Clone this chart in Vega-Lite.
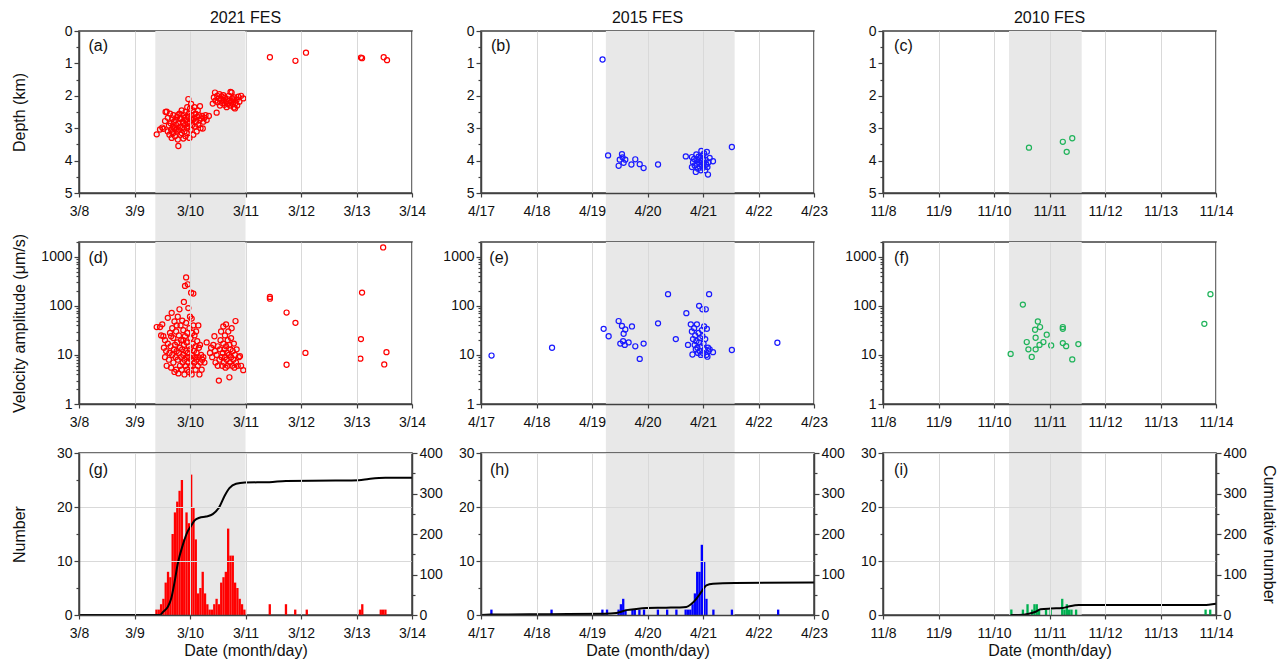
{
"$schema": "https://vega.github.io/schema/vega-lite/v6.json",
"padding": {"left": 10, "top": 9, "right": 5, "bottom": 5},
"config": {
 "font": "Liberation Sans",
 "view": {"stroke": "#404040", "strokeWidth": 1.5},
 "axis": {"zindex": 1, "labelFontSize": 14, "labelColor": "#111111", "titleFontSize": 16, "titleFontWeight": "normal", "titleColor": "#111111", "domainColor": "#404040", "domainWidth": 1.5, "tickColor": "#404040", "tickWidth": 1.2, "gridColor": "#d9d9d9", "gridWidth": 1, "labelPadding": 2, "labelFlush": false, "labelOverlap": false, "tickCount": 100},
 "title": {"fontSize": 16, "fontWeight": "normal", "color": "#111111", "offset": -2, "frame": "group"}
},
"datasets": {
 "band21": [{"s": 9.375, "e": 11.0}],
 "band15": [{"s": 19.25, "e": 21.57}],
 "band10": [{"s": 10.27, "e": 11.58}],
 "a": [
  {"d":9.40,"depth":3.19},{"d":9.46,"depth":3.04},{"d":9.50,"depth":2.98},{"d":9.52,"depth":3.02},{"d":9.55,"depth":2.78},{"d":9.56,"depth":2.50},{"d":9.58,"depth":2.49},{"d":9.60,"depth":2.68},{"d":9.60,"depth":3.10},{"d":9.62,"depth":2.92},{"d":9.63,"depth":3.20},{"d":9.64,"depth":2.55},{"d":9.65,"depth":2.85},{"d":9.66,"depth":3.05},{"d":9.67,"depth":3.30},{"d":9.68,"depth":2.70},{"d":9.69,"depth":2.95},{"d":9.70,"depth":3.15},{"d":9.70,"depth":2.60},{"d":9.71,"depth":2.80},{"d":9.72,"depth":3.00},{"d":9.73,"depth":3.25},{"d":9.74,"depth":2.75},{"d":9.75,"depth":2.90},{"d":9.76,"depth":3.10},{"d":9.77,"depth":2.65},{"d":9.78,"depth":3.35},{"d":9.79,"depth":3.55},{"d":9.79,"depth":2.85},{"d":9.80,"depth":3.05},{"d":9.81,"depth":2.55},{"d":9.82,"depth":2.95},{"d":9.83,"depth":3.20},{"d":9.84,"depth":2.70},{"d":9.85,"depth":2.45},{"d":9.86,"depth":3.00},{"d":9.87,"depth":2.80},{"d":9.88,"depth":3.32},{"d":9.89,"depth":2.60},{"d":9.90,"depth":3.10},{"d":9.91,"depth":2.90},{"d":9.92,"depth":2.50},{"d":9.93,"depth":2.75},{"d":9.94,"depth":3.15},{"d":9.95,"depth":2.35},{"d":9.96,"depth":2.65},{"d":9.97,"depth":2.10},{"d":9.97,"depth":2.95},{"d":9.98,"depth":2.55},{"d":9.99,"depth":3.30},{"d":10.00,"depth":2.40},{"d":10.00,"depth":2.80},{"d":10.01,"depth":3.05},{"d":10.02,"depth":2.25},{"d":10.03,"depth":2.60},{"d":10.04,"depth":2.90},{"d":10.05,"depth":2.45},{"d":10.06,"depth":3.20},{"d":10.07,"depth":2.70},{"d":10.08,"depth":2.35},{"d":10.09,"depth":2.95},{"d":10.10,"depth":2.55},{"d":10.11,"depth":2.80},{"d":10.12,"depth":3.10},{"d":10.13,"depth":2.65},{"d":10.14,"depth":2.45},{"d":10.15,"depth":2.90},{"d":10.16,"depth":2.60},{"d":10.17,"depth":2.75},{"d":10.18,"depth":2.32},{"d":10.19,"depth":3.00},{"d":10.20,"depth":2.70},{"d":10.22,"depth":2.62},{"d":10.23,"depth":3.01},{"d":10.24,"depth":2.80},{"d":10.26,"depth":2.68},{"d":10.28,"depth":2.60},{"d":10.30,"depth":2.75},{"d":10.34,"depth":2.62},{"d":9.85,"depth":3.15},{"d":9.78,"depth":2.60},{"d":9.95,"depth":3.00},{"d":9.88,"depth":2.85},{"d":9.92,"depth":3.25},{"d":10.02,"depth":2.70},{"d":9.74,"depth":3.05},{"d":9.82,"depth":2.70},{"d":9.96,"depth":2.85},{"d":10.05,"depth":2.75},{"d":9.68,"depth":3.12},{"d":9.90,"depth":2.68},
  {"d":10.41,"depth":2.24},{"d":10.43,"depth":2.05},{"d":10.45,"depth":1.90},{"d":10.46,"depth":2.15},{"d":10.48,"depth":2.52},{"d":10.49,"depth":2.00},{"d":10.50,"depth":2.20},{"d":10.52,"depth":2.08},{"d":10.53,"depth":1.95},{"d":10.54,"depth":2.30},{"d":10.56,"depth":2.12},{"d":10.57,"depth":2.02},{"d":10.58,"depth":2.22},{"d":10.60,"depth":1.98},{"d":10.61,"depth":2.14},{"d":10.62,"depth":2.28},{"d":10.63,"depth":2.06},{"d":10.65,"depth":2.18},{"d":10.66,"depth":2.35},{"d":10.67,"depth":2.10},{"d":10.68,"depth":2.25},{"d":10.70,"depth":2.00},{"d":10.71,"depth":2.16},{"d":10.72,"depth":2.30},{"d":10.73,"depth":1.88},{"d":10.74,"depth":2.20},{"d":10.75,"depth":1.90},{"d":10.76,"depth":2.08},{"d":10.77,"depth":2.26},{"d":10.78,"depth":2.14},{"d":10.79,"depth":2.36},{"d":10.80,"depth":2.05},{"d":10.81,"depth":2.39},{"d":10.82,"depth":2.22},{"d":10.84,"depth":2.12},{"d":10.85,"depth":2.30},{"d":10.87,"depth":2.03},{"d":10.89,"depth":2.18},{"d":10.92,"depth":2.00},{"d":10.96,"depth":2.08},
  {"d":11.44,"depth":0.81},{"d":11.90,"depth":0.92},{"d":12.09,"depth":0.67},{"d":13.08,"depth":0.82},{"d":13.10,"depth":0.84},{"d":13.49,"depth":0.81},{"d":13.55,"depth":0.90}
 ],
 "b": [
  {"d":19.19,"depth":0.88},{"d":19.29,"depth":3.84},{"d":19.48,"depth":4.16},{"d":19.50,"depth":3.97},{"d":19.54,"depth":3.80},{"d":19.57,"depth":4.07},{"d":19.60,"depth":3.97},{"d":19.55,"depth":3.90},{"d":19.71,"depth":4.12},{"d":19.78,"depth":3.96},{"d":19.86,"depth":4.11},{"d":19.93,"depth":4.23},{"d":20.19,"depth":4.12},{"d":20.69,"depth":3.87},{"d":21.52,"depth":3.58},
  {"d":20.80,"depth":3.89},{"d":20.80,"depth":4.20},{"d":20.82,"depth":4.05},{"d":20.84,"depth":3.95},{"d":20.85,"depth":4.15},{"d":20.87,"depth":4.35},{"d":20.88,"depth":3.81},{"d":20.89,"depth":4.10},{"d":20.90,"depth":3.98},{"d":20.91,"depth":4.25},{"d":20.92,"depth":3.88},{"d":20.93,"depth":4.05},{"d":20.94,"depth":4.18},{"d":20.95,"depth":3.92},{"d":20.96,"depth":4.30},{"d":20.97,"depth":3.70},{"d":20.97,"depth":4.00},{"d":20.98,"depth":4.12},{"d":20.99,"depth":3.85},{"d":21.00,"depth":4.22},{"d":21.00,"depth":3.95},{"d":21.01,"depth":4.08},{"d":21.02,"depth":3.78},{"d":21.03,"depth":4.15},{"d":21.04,"depth":4.30},{"d":21.05,"depth":3.98},{"d":21.06,"depth":4.12},{"d":21.07,"depth":3.73},{"d":21.08,"depth":4.20},{"d":21.09,"depth":4.43},{"d":21.10,"depth":4.05},{"d":21.12,"depth":3.92},{"d":21.18,"depth":4.02}
 ],
 "c": [{"d":10.63,"depth":3.60},{"d":11.24,"depth":3.42},{"d":11.31,"depth":3.73},{"d":11.41,"depth":3.31}],
 "dv": [
  {"d":9.40,"v":37},{"d":9.46,"v":37},{"d":9.48,"v":25},{"d":9.50,"v":42},{"d":9.52,"v":24},{"d":9.53,"v":14},{"d":9.55,"v":9},{"d":9.55,"v":20},{"d":9.57,"v":12},{"d":9.58,"v":6},{"d":9.60,"v":57},{"d":9.60,"v":17},{"d":9.62,"v":8},{"d":9.63,"v":11},{"d":9.64,"v":28},{"d":9.65,"v":15},{"d":9.66,"v":5.5},{"d":9.67,"v":72},{"d":9.68,"v":10},{"d":9.68,"v":35},{"d":9.70,"v":7},{"d":9.70,"v":22},{"d":9.71,"v":13},{"d":9.72,"v":4.5},{"d":9.73,"v":16},{"d":9.74,"v":9},{"d":9.75,"v":30},{"d":9.75,"v":5},{"d":9.76,"v":12},{"d":9.77,"v":18},{"d":9.78,"v":8},{"d":9.78,"v":60},{"d":9.79,"v":4.2},{"d":9.80,"v":11},{"d":9.80,"v":25},{"d":9.81,"v":85},{"d":9.82,"v":6},{"d":9.82,"v":14},{"d":9.83,"v":40},{"d":9.84,"v":9},{"d":9.84,"v":20},{"d":9.85,"v":5},{"d":9.86,"v":13},{"d":9.86,"v":50},{"d":9.87,"v":7},{"d":9.88,"v":32},{"d":9.88,"v":10},{"d":9.89,"v":120},{"d":9.89,"v":16},{"d":9.90,"v":4},{"d":9.90,"v":8},{"d":9.91,"v":255},{"d":9.91,"v":24},{"d":9.92,"v":12},{"d":9.92,"v":6},{"d":9.93,"v":380},{"d":9.93,"v":45},{"d":9.94,"v":9},{"d":9.94,"v":18},{"d":9.95,"v":5},{"d":9.95,"v":28},{"d":9.96,"v":11},{"d":9.96,"v":275},{"d":9.97,"v":7},{"d":9.97,"v":90},{"d":9.98,"v":15},{"d":9.98,"v":4.5},{"d":9.99,"v":35},{"d":9.99,"v":9},{"d":10.00,"v":60},{"d":10.00,"v":13},{"d":10.01,"v":6},{"d":10.01,"v":22},{"d":10.02,"v":8},{"d":10.02,"v":185},{"d":10.03,"v":4},{"d":10.03,"v":55},{"d":10.04,"v":10},{"d":10.05,"v":17},{"d":10.05,"v":6},{"d":10.06,"v":40},{"d":10.06,"v":178},{"d":10.07,"v":12},{"d":10.08,"v":7},{"d":10.08,"v":25},{"d":10.09,"v":9},{"d":10.10,"v":5},{"d":10.10,"v":15},{"d":10.11,"v":30},{"d":10.12,"v":8},{"d":10.12,"v":11},{"d":10.13,"v":19},{"d":10.14,"v":6},{"d":10.15,"v":40},{"d":10.15,"v":9},{"d":10.16,"v":14},{"d":10.17,"v":4},{"d":10.18,"v":16},{"d":10.19,"v":7},{"d":10.20,"v":10},{"d":10.21,"v":5},{"d":10.22,"v":8},{"d":10.24,"v":9},{"d":10.26,"v":7},{"d":10.30,"v":18},{"d":9.72,"v":48},{"d":9.66,"v":24},{"d":9.76,"v":40},{"d":9.88,"v":20},{"d":10.04,"v":28},
  {"d":10.36,"v":11},{"d":10.38,"v":14},{"d":10.40,"v":9},{"d":10.42,"v":16},{"d":10.44,"v":24},{"d":10.45,"v":12},{"d":10.46,"v":7},{"d":10.48,"v":10},{"d":10.50,"v":15},{"d":10.50,"v":6},{"d":10.52,"v":3.0},{"d":10.53,"v":8},{"d":10.54,"v":13},{"d":10.55,"v":20},{"d":10.56,"v":30},{"d":10.57,"v":9},{"d":10.58,"v":6},{"d":10.59,"v":11},{"d":10.60,"v":38},{"d":10.60,"v":17},{"d":10.61,"v":7},{"d":10.62,"v":13},{"d":10.63,"v":25},{"d":10.63,"v":9},{"d":10.64,"v":5.5},{"d":10.65,"v":42},{"d":10.65,"v":15},{"d":10.66,"v":8},{"d":10.67,"v":11},{"d":10.68,"v":20},{"d":10.68,"v":6},{"d":10.69,"v":30},{"d":10.70,"v":10},{"d":10.71,"v":3.5},{"d":10.71,"v":16},{"d":10.72,"v":7},{"d":10.73,"v":13},{"d":10.74,"v":22},{"d":10.74,"v":9},{"d":10.75,"v":35},{"d":10.76,"v":6},{"d":10.77,"v":12},{"d":10.78,"v":8},{"d":10.79,"v":17},{"d":10.80,"v":5.5},{"d":10.81,"v":10},{"d":10.82,"v":49},{"d":10.83,"v":7},{"d":10.84,"v":13},{"d":10.86,"v":6},{"d":10.88,"v":9},{"d":10.90,"v":9.4},{"d":10.92,"v":6},{"d":10.96,"v":4.9},
  {"d":11.44,"v":152},{"d":11.44,"v":140},{"d":11.74,"v":73},{"d":11.74,"v":6.3},{"d":11.90,"v":45},{"d":12.08,"v":11},{"d":13.07,"v":8.4},{"d":13.08,"v":21},{"d":13.10,"v":186},{"d":13.48,"v":1550},{"d":13.50,"v":6.4},{"d":13.54,"v":11.4}
 ],
 "ev": [
  {"d":17.19,"v":9.7},{"d":18.28,"v":14},{"d":19.21,"v":34},{"d":19.30,"v":24},{"d":19.48,"v":49},{"d":19.54,"v":39},{"d":19.57,"v":27},{"d":19.60,"v":33},{"d":19.72,"v":38},{"d":19.51,"v":17},{"d":19.56,"v":19},{"d":19.59,"v":16},{"d":19.66,"v":18},{"d":19.78,"v":15},{"d":19.93,"v":17},{"d":19.86,"v":8.3},{"d":20.19,"v":44},{"d":20.37,"v":173},{"d":20.51,"v":21},{"d":20.70,"v":71},{"d":20.73,"v":16},{"d":21.52,"v":12.6},{"d":22.34,"v":17.7},
  {"d":20.78,"v":42},{"d":20.80,"v":30},{"d":20.81,"v":10.2},{"d":20.82,"v":21},{"d":20.84,"v":35},{"d":20.85,"v":16},{"d":20.86,"v":25},{"d":20.87,"v":13},{"d":20.88,"v":19},{"d":20.89,"v":42},{"d":20.90,"v":14},{"d":20.91,"v":11},{"d":20.92,"v":28},{"d":20.93,"v":100},{"d":20.93,"v":18},{"d":20.94,"v":12},{"d":20.95,"v":22},{"d":20.96,"v":10},{"d":20.97,"v":15},{"d":20.98,"v":32},{"d":20.99,"v":85},{"d":20.99,"v":24},{"d":21.00,"v":11},{"d":21.01,"v":17},{"d":21.02,"v":38},{"d":21.03,"v":13},{"d":21.04,"v":21},{"d":21.05,"v":85},{"d":21.06,"v":10},{"d":21.07,"v":34},{"d":21.08,"v":9.2},{"d":21.09,"v":14},{"d":21.10,"v":12},{"d":21.11,"v":173},{"d":21.12,"v":13},{"d":21.18,"v":11.4}
 ],
 "fv": [
  {"d":10.30,"v":10.5},{"d":10.52,"v":106},{"d":10.59,"v":18.3},{"d":10.62,"v":13},{"d":10.68,"v":9.1},{"d":10.74,"v":32.6},{"d":10.75,"v":22.4},{"d":10.75,"v":13},{"d":10.79,"v":48},{"d":10.83,"v":37},{"d":10.82,"v":16},{"d":10.89,"v":18.3},{"d":10.95,"v":25.8},{"d":11.03,"v":15.6},{"d":11.24,"v":34},{"d":11.24,"v":37},{"d":11.24,"v":17.4},{"d":11.30,"v":15.1},{"d":11.41,"v":8.1},{"d":11.52,"v":16.6},{"d":13.79,"v":43},{"d":13.90,"v":173}
 ],
 "gbar": [
  {"t0":9.3750,"t1":9.4167,"n":1},{"t0":9.4167,"t1":9.4583,"n":1},{"t0":9.4583,"t1":9.5000,"n":2},{"t0":9.5000,"t1":9.5417,"n":3},{"t0":9.5417,"t1":9.5833,"n":6},{"t0":9.5833,"t1":9.6250,"n":8},{"t0":9.6250,"t1":9.6667,"n":7},{"t0":9.6667,"t1":9.7083,"n":15},{"t0":9.7083,"t1":9.7500,"n":19},{"t0":9.7500,"t1":9.7917,"n":21},{"t0":9.7917,"t1":9.8333,"n":23},{"t0":9.8333,"t1":9.8750,"n":25},{"t0":9.8750,"t1":9.9167,"n":14},{"t0":9.9167,"t1":9.9583,"n":19},{"t0":9.9583,"t1":10.0000,"n":17},{"t0":10.0000,"t1":10.0417,"n":26},{"t0":10.0417,"t1":10.0833,"n":20},{"t0":10.0833,"t1":10.1250,"n":14},{"t0":10.1250,"t1":10.1667,"n":4},{"t0":10.1667,"t1":10.2083,"n":5},{"t0":10.2083,"t1":10.2500,"n":8},{"t0":10.2500,"t1":10.2917,"n":4},{"t0":10.2917,"t1":10.3333,"n":2},{"t0":10.3333,"t1":10.3750,"n":1},{"t0":10.3750,"t1":10.4167,"n":1},{"t0":10.4167,"t1":10.4583,"n":2},{"t0":10.4583,"t1":10.5000,"n":3},{"t0":10.5000,"t1":10.5417,"n":2},{"t0":10.5417,"t1":10.5833,"n":6},{"t0":10.5833,"t1":10.6250,"n":7},{"t0":10.6250,"t1":10.6667,"n":8},{"t0":10.6667,"t1":10.7083,"n":16},{"t0":10.7083,"t1":10.7500,"n":11},{"t0":10.7500,"t1":10.7917,"n":11},{"t0":10.7917,"t1":10.8333,"n":6},{"t0":10.8333,"t1":10.8750,"n":5},{"t0":10.8750,"t1":10.9167,"n":3},{"t0":10.9167,"t1":10.9583,"n":2},{"t0":10.9583,"t1":11.0000,"n":1},
  {"t0":11.4167,"t1":11.4583,"n":2},{"t0":11.7083,"t1":11.7500,"n":2},{"t0":11.8750,"t1":11.9167,"n":1},{"t0":12.0833,"t1":12.1250,"n":1},{"t0":13.0417,"t1":13.0833,"n":1},{"t0":13.0833,"t1":13.1250,"n":2},{"t0":13.4167,"t1":13.4583,"n":1},{"t0":13.4583,"t1":13.5000,"n":1},{"t0":13.5000,"t1":13.5417,"n":1}
 ],
 "hbar": [
  {"t0":17.1667,"t1":17.2083,"n":1},{"t0":18.2500,"t1":18.2917,"n":1},{"t0":19.1667,"t1":19.2083,"n":1},{"t0":19.2500,"t1":19.2917,"n":1},{"t0":19.4583,"t1":19.5000,"n":1},{"t0":19.5000,"t1":19.5417,"n":2},{"t0":19.5417,"t1":19.5833,"n":3},{"t0":19.5833,"t1":19.6250,"n":1},{"t0":19.7083,"t1":19.7500,"n":1},{"t0":19.7500,"t1":19.7917,"n":1},{"t0":19.8333,"t1":19.8750,"n":1},{"t0":19.9167,"t1":19.9583,"n":1},{"t0":20.1667,"t1":20.2083,"n":1},{"t0":20.3333,"t1":20.3750,"n":1},{"t0":20.5000,"t1":20.5417,"n":1},{"t0":20.6667,"t1":20.7083,"n":1},{"t0":20.7083,"t1":20.7500,"n":1},{"t0":20.7500,"t1":20.7917,"n":1},{"t0":20.7917,"t1":20.8333,"n":2},{"t0":20.8333,"t1":20.8750,"n":4},{"t0":20.8750,"t1":20.9167,"n":8},{"t0":20.9167,"t1":20.9583,"n":8},{"t0":20.9583,"t1":21.0000,"n":13},{"t0":21.0000,"t1":21.0417,"n":10},{"t0":21.0417,"t1":21.0833,"n":3},{"t0":21.1667,"t1":21.2083,"n":1},{"t0":21.5000,"t1":21.5417,"n":1},{"t0":22.3333,"t1":22.3750,"n":1}
 ],
 "ibar": [
  {"t0":10.2917,"t1":10.3333,"n":1},{"t0":10.5000,"t1":10.5417,"n":1},{"t0":10.5833,"t1":10.6250,"n":2},{"t0":10.6667,"t1":10.7083,"n":1},{"t0":10.7083,"t1":10.7500,"n":2},{"t0":10.7500,"t1":10.7917,"n":2},{"t0":10.7917,"t1":10.8333,"n":1},{"t0":10.9167,"t1":10.9583,"n":1},{"t0":11.0000,"t1":11.0417,"n":1},{"t0":11.2083,"t1":11.2500,"n":3},{"t0":11.2500,"t1":11.2917,"n":1},{"t0":11.2917,"t1":11.3333,"n":2},{"t0":11.3333,"t1":11.3750,"n":1},{"t0":11.3750,"t1":11.4167,"n":1},{"t0":11.4583,"t1":11.5000,"n":1},{"t0":13.7917,"t1":13.8333,"n":1},{"t0":13.8750,"t1":13.9167,"n":1}
 ],
 "gcum": [
  {"d":8.0,"c":0},{"d":9.46,"c":0},{"d":9.51,"c":7},{"d":9.60,"c":20},{"d":9.66,"c":40},{"d":9.72,"c":80},{"d":9.78,"c":127},{"d":9.87,"c":173},{"d":9.96,"c":207},{"d":10.02,"c":220},{"d":10.08,"c":233},{"d":10.17,"c":240},{"d":10.29,"c":243},{"d":10.41,"c":249},{"d":10.53,"c":267},{"d":10.62,"c":293},{"d":10.71,"c":313},{"d":10.83,"c":324},{"d":10.99,"c":327},{"d":11.43,"c":328},{"d":11.73,"c":331},{"d":12.62,"c":332},{"d":13.04,"c":333},{"d":13.22,"c":336},{"d":13.52,"c":339},{"d":14.0,"c":339}
 ],
 "hcum": [
  {"d":17.0,"c":0},{"d":17.17,"c":1},{"d":18.26,"c":2},{"d":19.22,"c":3},{"d":19.44,"c":5},{"d":19.62,"c":12},{"d":19.80,"c":15},{"d":19.98,"c":17},{"d":20.34,"c":18},{"d":20.70,"c":20},{"d":20.79,"c":27},{"d":20.88,"c":40},{"d":20.97,"c":57},{"d":21.06,"c":73},{"d":21.18,"c":77},{"d":21.57,"c":79},{"d":23.0,"c":80}
 ],
 "icum": [
  {"d":10.30,"c":0},{"d":10.45,"c":0},{"d":10.63,"c":3},{"d":10.75,"c":8},{"d":10.84,"c":14},{"d":11.02,"c":16},{"d":11.23,"c":17},{"d":11.32,"c":20},{"d":11.53,"c":25},{"d":13.78,"c":25},{"d":14.0,"c":28}
 ]
},
"columns": 3,
"spacing": {"row": 49, "column": 69},
"bounds": "flush",
"concat": [
 {
  "width": 333, "height": 162,
  "title": {"text": "2021 FES"},
  "layer": [
   {"data": {"name": "band21"}, "mark": {"type": "rect", "color": "#e8e8e8"},
    "encoding": {
     "x": {"field": "s", "type": "quantitative", "scale": {"domain": [8, 14], "nice": false, "zero": false},
       "axis": {"zindex": 1, "tickCount": 100, "labelOverlap": false, "labelPadding": 7, "values": [8,9,10,11,12,13,14], "labelExpr": "'3/' + datum.value", "title": null, "tickSize": 4, "grid": true}},
     "x2": {"field": "e"},
     "y": {"datum": 0, "type": "quantitative", "scale": {"domain": [0, 5], "reverse": true, "nice": false, "zero": false},
       "axis": {"zindex": 1, "tickCount": 100, "labelOverlap": false, "values": [0,0.5,1,1.5,2,2.5,3,3.5,4,4.5,5], "labelExpr": "datum.value % 1 === 0 ? '' + datum.value : ''",
         "gridOpacity": {"condition": {"test": "datum.value % 1 !== 0", "value": 0}, "value": 1},
         "tickSize": {"condition": {"test": "datum.value % 1 !== 0", "value": 3}, "value": 5},
         "title": "Depth (km)", "minExtent": 40, "maxExtent": 40, "titlePadding": 12}},
     "y2": {"datum": 6.51}}},
   {"data": {"name": "a"}, "mark": {"type": "point", "shape": "circle", "filled": false, "size": 26, "strokeWidth": 1.2, "color": "#ff0000", "opacity": 1},
    "encoding": {"x": {"field": "d", "type": "quantitative"}, "y": {"field": "depth", "type": "quantitative"}}},
   {"data": {"values": [{"lab": "(a)"}]}, "mark": {"type": "text", "align": "left", "baseline": "middle", "fontSize": 16, "color": "#111111"},
    "encoding": {"x": {"datum": 8.17}, "y": {"datum": 0.47}, "text": {"field": "lab"}}}
  ]
 },
 {
  "width": 333, "height": 162,
  "title": {"text": "2015 FES"},
  "layer": [
   {"data": {"name": "band15"}, "mark": {"type": "rect", "color": "#e8e8e8"},
    "encoding": {
     "x": {"field": "s", "type": "quantitative", "scale": {"domain": [17, 23], "nice": false, "zero": false},
       "axis": {"zindex": 1, "tickCount": 100, "labelOverlap": false, "labelPadding": 7, "values": [17,18,19,20,21,22,23], "labelExpr": "'4/' + datum.value", "title": null, "tickSize": 4, "grid": true}},
     "x2": {"field": "e"},
     "y": {"datum": 0, "type": "quantitative", "scale": {"domain": [0, 5], "reverse": true, "nice": false, "zero": false},
       "axis": {"zindex": 1, "tickCount": 100, "labelOverlap": false, "values": [0,0.5,1,1.5,2,2.5,3,3.5,4,4.5,5], "labelExpr": "datum.value % 1 === 0 ? '' + datum.value : ''",
         "gridOpacity": {"condition": {"test": "datum.value % 1 !== 0", "value": 0}, "value": 1},
         "tickSize": {"condition": {"test": "datum.value % 1 !== 0", "value": 3}, "value": 5},
         "title": null}},
     "y2": {"datum": 6.51}}},
   {"data": {"name": "b"}, "mark": {"type": "point", "shape": "circle", "filled": false, "size": 26, "strokeWidth": 1.2, "color": "#1a1aff", "opacity": 1},
    "encoding": {"x": {"field": "d", "type": "quantitative"}, "y": {"field": "depth", "type": "quantitative"}}},
   {"data": {"values": [{"lab": "(b)"}]}, "mark": {"type": "text", "align": "left", "baseline": "middle", "fontSize": 16, "color": "#111111"},
    "encoding": {"x": {"datum": 17.18}, "y": {"datum": 0.47}, "text": {"field": "lab"}}}
  ]
 },
 {
  "width": 333, "height": 162,
  "title": {"text": "2010 FES"},
  "layer": [
   {"data": {"name": "band10"}, "mark": {"type": "rect", "color": "#e8e8e8"},
    "encoding": {
     "x": {"field": "s", "type": "quantitative", "scale": {"domain": [8, 14], "nice": false, "zero": false},
       "axis": {"zindex": 1, "tickCount": 100, "labelOverlap": false, "labelPadding": 7, "values": [8,9,10,11,12,13,14], "labelExpr": "'11/' + datum.value", "title": null, "tickSize": 4, "grid": true}},
     "x2": {"field": "e"},
     "y": {"datum": 0, "type": "quantitative", "scale": {"domain": [0, 5], "reverse": true, "nice": false, "zero": false},
       "axis": {"zindex": 1, "tickCount": 100, "labelOverlap": false, "values": [0,0.5,1,1.5,2,2.5,3,3.5,4,4.5,5], "labelExpr": "datum.value % 1 === 0 ? '' + datum.value : ''",
         "gridOpacity": {"condition": {"test": "datum.value % 1 !== 0", "value": 0}, "value": 1},
         "tickSize": {"condition": {"test": "datum.value % 1 !== 0", "value": 3}, "value": 5},
         "title": null}},
     "y2": {"datum": 6.51}}},
   {"data": {"name": "c"}, "mark": {"type": "point", "shape": "circle", "filled": false, "size": 26, "strokeWidth": 1.2, "color": "#1fb35a", "opacity": 1},
    "encoding": {"x": {"field": "d", "type": "quantitative"}, "y": {"field": "depth", "type": "quantitative"}}},
   {"data": {"values": [{"lab": "(c)"}]}, "mark": {"type": "text", "align": "left", "baseline": "middle", "fontSize": 16, "color": "#111111"},
    "encoding": {"x": {"datum": 8.2}, "y": {"datum": 0.47}, "text": {"field": "lab"}}}
  ]
 },
 {
  "width": 333, "height": 162,
  "layer": [
   {"data": {"name": "band21"}, "mark": {"type": "rect", "color": "#e8e8e8"},
    "encoding": {
     "x": {"field": "s", "type": "quantitative", "scale": {"domain": [8, 14], "nice": false, "zero": false},
       "axis": {"zindex": 1, "tickCount": 100, "labelOverlap": false, "labelPadding": 7, "values": [8,9,10,11,12,13,14], "labelExpr": "'3/' + datum.value", "title": null, "tickSize": 4, "grid": true}},
     "x2": {"field": "e"},
     "y": {"datum": 2000, "type": "quantitative", "scale": {"type": "log", "domain": [1, 2000], "nice": false},
       "axis": {"zindex": 1, "tickCount": 100, "labelOverlap": false, "values": [1,2,3,4,5,6,7,8,9,10,20,30,40,50,60,70,80,90,100,200,300,400,500,600,700,800,900,1000,2000],
         "labelExpr": "indexof([1,10,100,1000], datum.value) >= 0 ? '' + datum.value : ''",
         "gridOpacity": {"condition": {"test": "indexof([1,10,100,1000], datum.value) < 0", "value": 0}, "value": 1},
         "tickSize": {"condition": {"test": "indexof([1,10,100,1000], datum.value) < 0", "value": 3}, "value": 5},
         "title": "Velocity amplitude (μm/s)", "minExtent": 40, "maxExtent": 40, "titlePadding": 12}},
     "y2": {"datum": 0.0986}}},
   {"data": {"name": "dv"}, "mark": {"type": "point", "shape": "circle", "filled": false, "size": 26, "strokeWidth": 1.2, "color": "#ff0000", "opacity": 1},
    "encoding": {"x": {"field": "d", "type": "quantitative"}, "y": {"field": "v", "type": "quantitative"}}},
   {"data": {"values": [{"lab": "(d)"}]}, "mark": {"type": "text", "align": "left", "baseline": "middle", "fontSize": 16, "color": "#111111"},
    "encoding": {"x": {"datum": 8.17}, "y": {"datum": 950}, "text": {"field": "lab"}}}
  ]
 },
 {
  "width": 333, "height": 162,
  "layer": [
   {"data": {"name": "band15"}, "mark": {"type": "rect", "color": "#e8e8e8"},
    "encoding": {
     "x": {"field": "s", "type": "quantitative", "scale": {"domain": [17, 23], "nice": false, "zero": false},
       "axis": {"zindex": 1, "tickCount": 100, "labelOverlap": false, "labelPadding": 7, "values": [17,18,19,20,21,22,23], "labelExpr": "'4/' + datum.value", "title": null, "tickSize": 4, "grid": true}},
     "x2": {"field": "e"},
     "y": {"datum": 2000, "type": "quantitative", "scale": {"type": "log", "domain": [1, 2000], "nice": false},
       "axis": {"zindex": 1, "tickCount": 100, "labelOverlap": false, "values": [1,2,3,4,5,6,7,8,9,10,20,30,40,50,60,70,80,90,100,200,300,400,500,600,700,800,900,1000,2000],
         "labelExpr": "indexof([1,10,100,1000], datum.value) >= 0 ? '' + datum.value : ''",
         "gridOpacity": {"condition": {"test": "indexof([1,10,100,1000], datum.value) < 0", "value": 0}, "value": 1},
         "tickSize": {"condition": {"test": "indexof([1,10,100,1000], datum.value) < 0", "value": 3}, "value": 5},
         "title": null}},
     "y2": {"datum": 0.0986}}},
   {"data": {"name": "ev"}, "mark": {"type": "point", "shape": "circle", "filled": false, "size": 26, "strokeWidth": 1.2, "color": "#1a1aff", "opacity": 1},
    "encoding": {"x": {"field": "d", "type": "quantitative"}, "y": {"field": "v", "type": "quantitative"}}},
   {"data": {"values": [{"lab": "(e)"}]}, "mark": {"type": "text", "align": "left", "baseline": "middle", "fontSize": 16, "color": "#111111"},
    "encoding": {"x": {"datum": 17.15}, "y": {"datum": 950}, "text": {"field": "lab"}}}
  ]
 },
 {
  "width": 333, "height": 162,
  "layer": [
   {"data": {"name": "band10"}, "mark": {"type": "rect", "color": "#e8e8e8"},
    "encoding": {
     "x": {"field": "s", "type": "quantitative", "scale": {"domain": [8, 14], "nice": false, "zero": false},
       "axis": {"zindex": 1, "tickCount": 100, "labelOverlap": false, "labelPadding": 7, "values": [8,9,10,11,12,13,14], "labelExpr": "'11/' + datum.value", "title": null, "tickSize": 4, "grid": true}},
     "x2": {"field": "e"},
     "y": {"datum": 2000, "type": "quantitative", "scale": {"type": "log", "domain": [1, 2000], "nice": false},
       "axis": {"zindex": 1, "tickCount": 100, "labelOverlap": false, "values": [1,2,3,4,5,6,7,8,9,10,20,30,40,50,60,70,80,90,100,200,300,400,500,600,700,800,900,1000,2000],
         "labelExpr": "indexof([1,10,100,1000], datum.value) >= 0 ? '' + datum.value : ''",
         "gridOpacity": {"condition": {"test": "indexof([1,10,100,1000], datum.value) < 0", "value": 0}, "value": 1},
         "tickSize": {"condition": {"test": "indexof([1,10,100,1000], datum.value) < 0", "value": 3}, "value": 5},
         "title": null}},
     "y2": {"datum": 0.0986}}},
   {"data": {"name": "fv"}, "mark": {"type": "point", "shape": "circle", "filled": false, "size": 26, "strokeWidth": 1.2, "color": "#1fb35a", "opacity": 1},
    "encoding": {"x": {"field": "d", "type": "quantitative"}, "y": {"field": "v", "type": "quantitative"}}},
   {"data": {"values": [{"lab": "(f)"}]}, "mark": {"type": "text", "align": "left", "baseline": "middle", "fontSize": 16, "color": "#111111"},
    "encoding": {"x": {"datum": 8.2}, "y": {"datum": 950}, "text": {"field": "lab"}}}
  ]
 },
 {
  "width": 333, "height": 162,
  "resolve": {"scale": {"y": "independent"}, "axis": {"y": "independent"}},
  "layer": [
   {"data": {"name": "band21"}, "mark": {"type": "rect", "color": "#e8e8e8"},
    "encoding": {
     "x": {"field": "s", "type": "quantitative", "scale": {"domain": [8, 14], "nice": false, "zero": false},
       "axis": {"zindex": 1, "tickCount": 100, "labelOverlap": false, "labelPadding": 7, "values": [8,9,10,11,12,13,14], "labelExpr": "'3/' + datum.value", "title": "Date (month/day)", "titlePadding": 2, "tickSize": 4, "grid": true}},
     "x2": {"field": "e"}}},
   {"data": {"name": "gbar"}, "mark": {"type": "rect", "color": "#ff0000"},
    "encoding": {
     "x": {"field": "t0", "type": "quantitative"}, "x2": {"field": "t1"},
     "y": {"field": "n", "type": "quantitative", "scale": {"domain": [0, 30], "nice": false, "zero": true},
       "axis": {"zindex": 1, "tickCount": 100, "labelOverlap": false, "orient": "left", "values": [0,5,10,15,20,25,30], "labelExpr": "datum.value % 10 === 0 ? '' + datum.value : ''",
         "gridOpacity": {"condition": {"test": "datum.value % 10 !== 0", "value": 0}, "value": 1},
         "tickSize": {"condition": {"test": "datum.value % 10 !== 0", "value": 3}, "value": 5},
         "title": "Number", "minExtent": 40, "maxExtent": 40, "titlePadding": 12}},
     "y2": {"datum": 0}}},
   {"data": {"name": "gcum"}, "mark": {"type": "line", "color": "#000000", "strokeWidth": 2, "interpolate": "monotone"},
    "encoding": {
     "x": {"field": "d", "type": "quantitative"},
     "y": {"field": "c", "type": "quantitative", "scale": {"domain": [0, 400], "nice": false},
       "axis": {"zindex": 1, "tickCount": 100, "labelOverlap": false, "orient": "right", "values": [0,50,100,150,200,250,300,350,400], "labelExpr": "datum.value % 100 === 0 ? '' + datum.value : ''", "grid": false,
         "tickSize": {"condition": {"test": "datum.value % 100 !== 0", "value": 3}, "value": 5}, "title": null}}}},
   {"data": {"values": [{"lab": "(g)"}]}, "mark": {"type": "text", "align": "left", "baseline": "middle", "fontSize": 16, "color": "#111111"},
    "encoding": {"x": {"datum": 8.17}, "y": {"datum": 26.8, "type": "quantitative", "scale": {"domain": [0, 30]}, "axis": null}, "text": {"field": "lab"}}}
  ]
 },
 {
  "width": 333, "height": 162,
  "resolve": {"scale": {"y": "independent"}, "axis": {"y": "independent"}},
  "layer": [
   {"data": {"name": "band15"}, "mark": {"type": "rect", "color": "#e8e8e8"},
    "encoding": {
     "x": {"field": "s", "type": "quantitative", "scale": {"domain": [17, 23], "nice": false, "zero": false},
       "axis": {"zindex": 1, "tickCount": 100, "labelOverlap": false, "labelPadding": 7, "values": [17,18,19,20,21,22,23], "labelExpr": "'4/' + datum.value", "title": "Date (month/day)", "titlePadding": 2, "tickSize": 4, "grid": true}},
     "x2": {"field": "e"}}},
   {"data": {"name": "hbar"}, "mark": {"type": "rect", "color": "#0000ff"},
    "encoding": {
     "x": {"field": "t0", "type": "quantitative"}, "x2": {"field": "t1"},
     "y": {"field": "n", "type": "quantitative", "scale": {"domain": [0, 30], "nice": false, "zero": true},
       "axis": {"zindex": 1, "tickCount": 100, "labelOverlap": false, "orient": "left", "values": [0,5,10,15,20,25,30], "labelExpr": "datum.value % 10 === 0 ? '' + datum.value : ''",
         "gridOpacity": {"condition": {"test": "datum.value % 10 !== 0", "value": 0}, "value": 1},
         "tickSize": {"condition": {"test": "datum.value % 10 !== 0", "value": 3}, "value": 5},
         "title": null}},
     "y2": {"datum": 0}}},
   {"data": {"name": "hcum"}, "mark": {"type": "line", "color": "#000000", "strokeWidth": 2, "interpolate": "monotone"},
    "encoding": {
     "x": {"field": "d", "type": "quantitative"},
     "y": {"field": "c", "type": "quantitative", "scale": {"domain": [0, 400], "nice": false},
       "axis": {"zindex": 1, "tickCount": 100, "labelOverlap": false, "orient": "right", "values": [0,50,100,150,200,250,300,350,400], "labelExpr": "datum.value % 100 === 0 ? '' + datum.value : ''", "grid": false,
         "tickSize": {"condition": {"test": "datum.value % 100 !== 0", "value": 3}, "value": 5}, "title": null}}}},
   {"data": {"values": [{"lab": "(h)"}]}, "mark": {"type": "text", "align": "left", "baseline": "middle", "fontSize": 16, "color": "#111111"},
    "encoding": {"x": {"datum": 17.16}, "y": {"datum": 26.8, "type": "quantitative", "scale": {"domain": [0, 30]}, "axis": null}, "text": {"field": "lab"}}}
  ]
 },
 {
  "width": 333, "height": 162,
  "resolve": {"scale": {"y": "independent"}, "axis": {"y": "independent"}},
  "layer": [
   {"data": {"name": "band10"}, "mark": {"type": "rect", "color": "#e8e8e8"},
    "encoding": {
     "x": {"field": "s", "type": "quantitative", "scale": {"domain": [8, 14], "nice": false, "zero": false},
       "axis": {"zindex": 1, "tickCount": 100, "labelOverlap": false, "labelPadding": 7, "values": [8,9,10,11,12,13,14], "labelExpr": "'11/' + datum.value", "title": "Date (month/day)", "titlePadding": 2, "tickSize": 4, "grid": true}},
     "x2": {"field": "e"}}},
   {"data": {"name": "ibar"}, "mark": {"type": "rect", "color": "#00b050"},
    "encoding": {
     "x": {"field": "t0", "type": "quantitative"}, "x2": {"field": "t1"},
     "y": {"field": "n", "type": "quantitative", "scale": {"domain": [0, 30], "nice": false, "zero": true},
       "axis": {"zindex": 1, "tickCount": 100, "labelOverlap": false, "orient": "left", "values": [0,5,10,15,20,25,30], "labelExpr": "datum.value % 10 === 0 ? '' + datum.value : ''",
         "gridOpacity": {"condition": {"test": "datum.value % 10 !== 0", "value": 0}, "value": 1},
         "tickSize": {"condition": {"test": "datum.value % 10 !== 0", "value": 3}, "value": 5},
         "title": null}},
     "y2": {"datum": 0}}},
   {"data": {"name": "icum"}, "mark": {"type": "line", "color": "#000000", "strokeWidth": 2, "interpolate": "monotone"},
    "encoding": {
     "x": {"field": "d", "type": "quantitative"},
     "y": {"field": "c", "type": "quantitative", "scale": {"domain": [0, 400], "nice": false},
       "axis": {"zindex": 1, "tickCount": 100, "labelOverlap": false, "orient": "right", "values": [0,50,100,150,200,250,300,350,400], "labelExpr": "datum.value % 100 === 0 ? '' + datum.value : ''", "grid": false,
         "tickSize": {"condition": {"test": "datum.value % 100 !== 0", "value": 3}, "value": 5}, "title": "Cumulative number", "titlePadding": 14}}}},
   {"data": {"values": [{"lab": "(i)"}]}, "mark": {"type": "text", "align": "left", "baseline": "middle", "fontSize": 16, "color": "#111111"},
    "encoding": {"x": {"datum": 8.2}, "y": {"datum": 26.8, "type": "quantitative", "scale": {"domain": [0, 30]}, "axis": null}, "text": {"field": "lab"}}}
  ]
 }
]
}
